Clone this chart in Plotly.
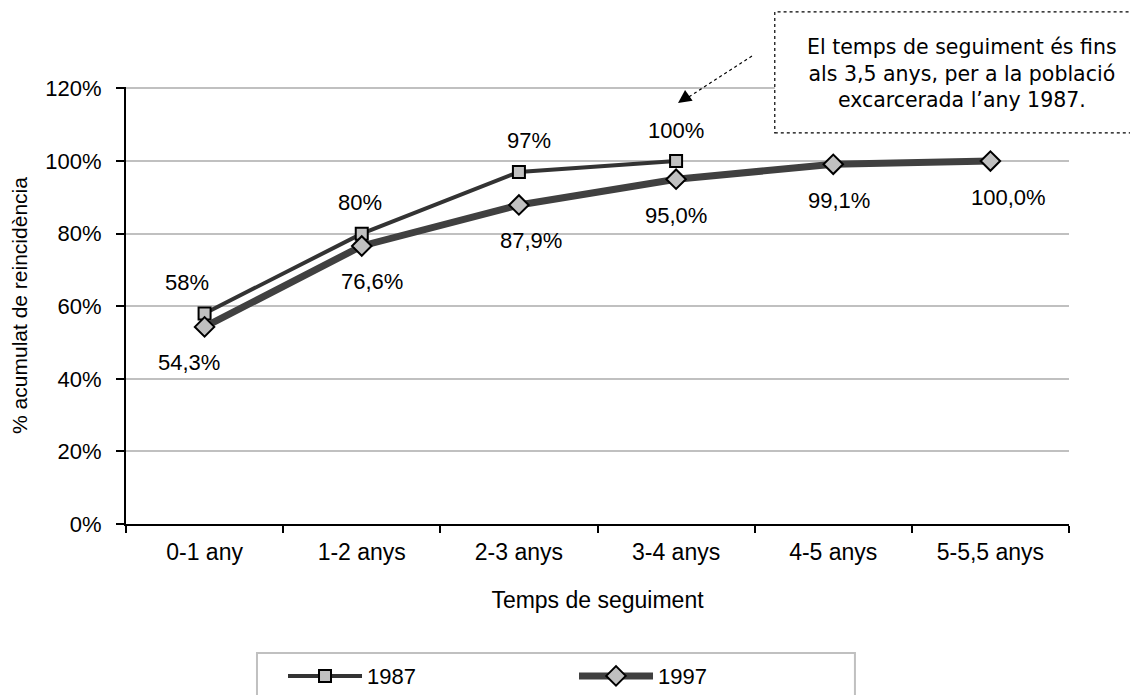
import plotly.graph_objects as go

categories = ["0-1 any", "1-2 anys", "2-3 anys", "3-4 anys", "4-5 anys", "5-5,5 anys"]
cat_1987 = categories[:4]
vals_1987 = [58, 80, 97, 100]
labels_1987 = ["58%", "80%", "97%", "100%"]
vals_1997 = [54.3, 76.6, 87.9, 95.0, 99.1, 100.0]
labels_1997 = ["54,3%", "76,6%", "87,9%", "95,0%", "99,1%", "100,0%"]
y_ticks = [0, 20, 40, 60, 80, 100, 120]
y_tick_labels = ["0%", "20%", "40%", "60%", "80%", "100%", "120%"]

# small horizontal nudges of the data labels (pixels)
nudge_1987 = [-18, -2, 10, 0]
nudge_1997 = [-16, 10, 12, 0, 6, 18]

FONT = "Liberation Sans, Arial, sans-serif"

fig = go.Figure()
fig.add_trace(go.Scatter(
    x=cat_1987, y=vals_1987, name="1987", mode="lines+markers",
    line=dict(color="#333333", width=4),
    marker=dict(symbol="square", size=12, color="#c0c0c0",
                line=dict(color="#000000", width=2)),
))
fig.add_trace(go.Scatter(
    x=categories, y=vals_1997, name="1997", mode="lines+markers",
    line=dict(color="#404040", width=7),
    marker=dict(symbol="diamond", size=15, color="#c0c0c0",
                line=dict(color="#000000", width=2)),
))

annotations = []
for c, v, t, dx in zip(cat_1987, vals_1987, labels_1987, nudge_1987):
    annotations.append(dict(x=c, y=v, text=t, showarrow=False, yshift=31, xshift=dx,
                            font=dict(family=FONT, size=22, color="#000")))
for c, v, t, dx in zip(categories, vals_1997, labels_1997, nudge_1997):
    annotations.append(dict(x=c, y=v, text=t, showarrow=False, yshift=-36, xshift=dx,
                            font=dict(family=FONT, size=22, color="#000")))

# note box text
annotations.append(dict(
    xref="paper", yref="paper", x=0.8866, y=1.032, xanchor="center", yanchor="middle",
    showarrow=False,
    text="El temps de seguiment és fins<br>als 3,5 anys, per a la població<br>excarcerada l’any 1987.",
    align="center", font=dict(family="DejaVu Sans, Verdana, sans-serif", size=20.5, color="#000"),
))
# arrow head
annotations.append(dict(
    xref="paper", yref="paper", x=0.5854, y=0.9634, ax=10, ay=-7,
    text="", showarrow=True, arrowhead=2, arrowsize=2.2, arrowwidth=1.2, arrowcolor="#000",
))

shapes = [
    dict(type="rect", xref="paper", yref="paper", x0=0.688, x1=1.085, y0=0.895, y1=1.172,
         line=dict(color="#000", width=1.2, dash="dot"), fillcolor="white", layer="above"),
    dict(type="line", xref="paper", yref="paper", x0=0.6638, y0=1.0709, x1=0.593, y1=0.972,
         line=dict(color="#000", width=1.2, dash="dot")),
    # legend frame
    dict(type="rect", xref="paper", yref="paper", x0=0.1389, x1=0.773, y0=-0.295, y1=-0.42,
         line=dict(color="#c0c0c0", width=2), fillcolor="rgba(0,0,0,0)"),
]

fig.update_layout(
    width=1138, height=695,
    margin=dict(l=118, r=77, t=79, b=179, autoexpand=False),
    paper_bgcolor="white", plot_bgcolor="white",
    font=dict(family=FONT, size=22, color="#000"),
    showlegend=True,
    legend=dict(orientation="h", x=0.1665, xanchor="left", y=-0.30, yanchor="top",
                borderwidth=0, itemwidth=74, entrywidth=202, bgcolor="rgba(0,0,0,0)",
                font=dict(family=FONT, size=22, color="#000")),
    annotations=annotations, shapes=shapes,
    xaxis=dict(
        type="category", categoryorder="array", categoryarray=categories,
        range=[-0.5, 5.5], showline=True, linecolor="#000", linewidth=2,
        ticks="outside", tickson="boundaries", ticklen=7, tickwidth=2, tickcolor="#000",
        showgrid=False, zeroline=False, automargin=False,
        title=dict(text="Temps de seguiment", font=dict(size=23), standoff=28),
        tickfont=dict(size=23), ticklabelstandoff=6,
    ),
    yaxis=dict(
        range=[0, 120.4], tickvals=y_ticks, ticktext=y_tick_labels,
        showline=True, linecolor="#000", linewidth=2,
        ticks="outside", ticklen=8, tickwidth=2, tickcolor="#000",
        showgrid=True, gridcolor="#c0c0c0", gridwidth=2, zeroline=False, automargin=False,
        title=dict(text="% acumulat de reincidència", font=dict(size=21), standoff=14),
        tickfont=dict(size=22), ticklabelstandoff=10,
    ),
)

fig.write_html("out.html")
